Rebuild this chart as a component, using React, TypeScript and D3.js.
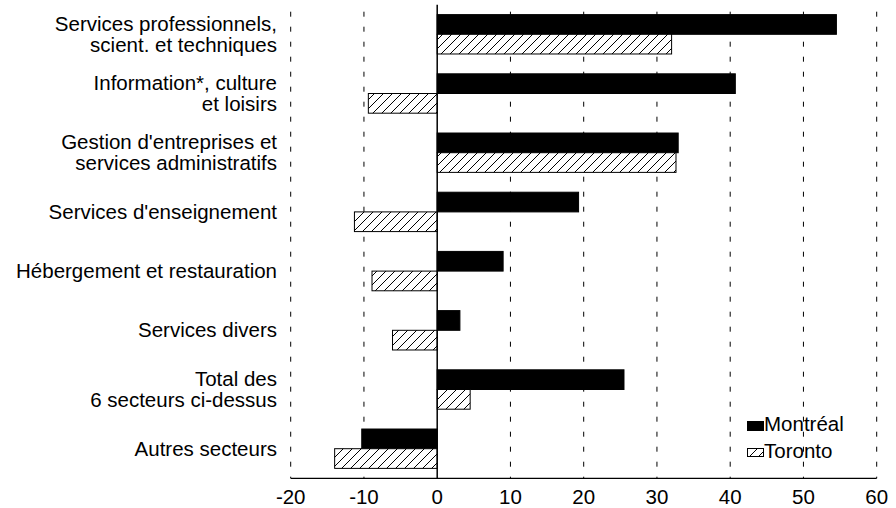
import React from "react";
import * as d3 from "d3";

const categories: string[][] = [
  ["Services professionnels,", "scient. et techniques"],
  ["Information*, culture", "et loisirs"],
  ["Gestion d'entreprises et", "services administratifs"],
  ["Services d'enseignement"],
  ["Hébergement et restauration"],
  ["Services divers"],
  ["Total des", "6 secteurs ci-dessus"],
  ["Autres secteurs"],
];
const montreal = [54.5, 40.7, 32.9, 19.3, 9.0, 3.1, 25.5, -10.3];
const toronto = [32.0, -9.4, 32.6, -11.3, -8.9, -6.1, 4.5, -14.0];
const xTicks = [-20, -10, 0, 10, 20, 30, 40, 50, 60];
const seriesNames = ["Montréal", "Toronto"];

const W = 896;
const H = 508;
const FONT = "'Liberation Sans', Arial, sans-serif";
const FS = 20.5;

export default function App() {
  const top = 4.7;
  const bottom = 478.3;
  const x = d3.scaleLinear().domain([-20, 60]).range([290.7, 876.7]);
  const ids = categories.map((_, i) => String(i));
  const y = d3
    .scaleBand<string>()
    .domain(ids)
    .range([top, bottom])
    .paddingInner(0.335)
    .paddingOuter(0.1675);
  const bh = y.bandwidth() / 2;

  const bar = (v: number) => ({ x: x(Math.min(0, v)), w: Math.abs(x(v) - x(0)) });

  return (
    <svg
      width={W}
      height={H}
      style={{ position: "absolute", left: 0, top: 0, background: "#fff" }}
      fontFamily={FONT}
    >
      <defs>
        <pattern id="hatch" patternUnits="userSpaceOnUse" width={9} height={9}>
          <rect width={9} height={9} fill="#fff" />
          <path d="M0,9 L9,0 M-2,2 L2,-2 M7,11 L11,7" stroke="#000" strokeWidth={1} />
        </pattern>
      </defs>
      <rect width={W} height={H} fill="#fff" />
      {/* grid */}
      {xTicks
        .filter((t) => t !== 0)
        .map((t) => (
          <line
            key={t}
            x1={x(t)}
            x2={x(t)}
            y1={top}
            y2={bottom}
            stroke="#000"
            strokeWidth={1}
            strokeDasharray="5,10"
            strokeDashoffset={8}
          />
        ))}
      {/* bars */}
      {ids.map((id, i) => {
        const m = bar(montreal[i]);
        const t = bar(toronto[i]);
        const y0 = y(id)!;
        return (
          <g key={id}>
            <rect x={m.x} y={y0} width={m.w} height={bh} fill="#000" stroke="#000" strokeWidth={1} />
            <rect x={t.x} y={y0 + bh} width={t.w} height={bh} fill="url(#hatch)" stroke="#000" strokeWidth={1} />
          </g>
        );
      })}
      {/* zero line */}
      <line x1={x(0)} x2={x(0)} y1={top} y2={bottom} stroke="#000" strokeWidth={1.5} />
      {/* x axis */}
      <line x1={x(-20)} x2={x(60)} y1={bottom} y2={bottom} stroke="#000" strokeWidth={1.3} />
      {xTicks.map((t) => (
        <text key={t} x={x(t)} y={503.5} textAnchor="middle" fontSize={FS} fill="#000">
          {t}
        </text>
      ))}
      {/* category labels */}
      {ids.map((id, i) => {
        const c = y(id)! + y.bandwidth() / 2;
        const lines = categories[i];
        const base = c + 6.8 - ((lines.length - 1) * 21) / 2;
        return (
          <text key={id} x={277} textAnchor="end" fontSize={FS} fill="#000">
            {lines.map((l, k) => (
              <tspan key={k} x={277} y={base + k * 21}>
                {l}
              </tspan>
            ))}
          </text>
        );
      })}
      {/* legend */}
      <g>
        <rect x={747.5} y={421.5} width={16} height={9} fill="#000" stroke="#000" strokeWidth={1} />
        <text x={764} y={431} fontSize={FS} fill="#000">
          {seriesNames[0]}
        </text>
        <rect x={747.5} y={448.5} width={16} height={8} fill="url(#hatch)" stroke="#000" strokeWidth={1} />
        <text x={764} y={457.5} fontSize={FS} fill="#000">
          {seriesNames[1]}
        </text>
      </g>
    </svg>
  );
}
